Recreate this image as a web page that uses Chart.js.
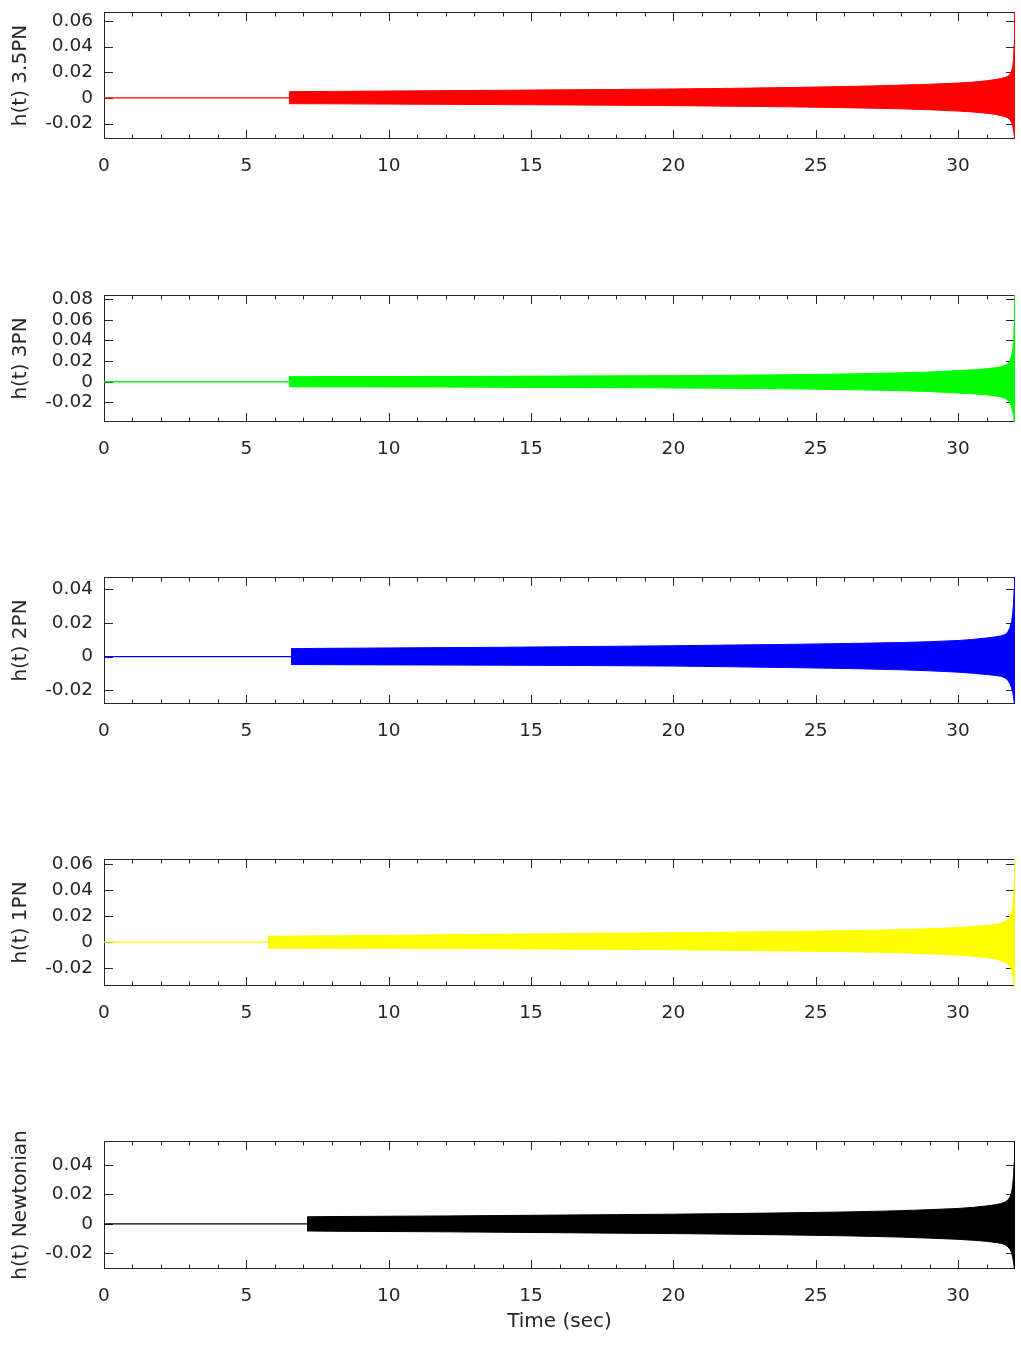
<!DOCTYPE html>
<html><head><meta charset="utf-8">
<script src="https://cdn.jsdelivr.net/npm/chart.js@4.4.0/dist/chart.umd.min.js"></script>
<style>
html,body{margin:0;padding:0;background:#fff;}
#wrap{position:relative;width:1021px;height:1347px;overflow:hidden;}
canvas{position:absolute;left:0;}
</style></head><body><div id="wrap"></div>
<script>
// ---------- data ----------
const xTickValues = [0, 5, 10, 15, 20, 25, 30];
const xMinorTickValues = [1, 2, 3, 4, 6, 7, 8, 9, 11, 12, 13, 14, 16, 17, 18, 19, 21, 22, 23, 24, 26, 27, 28, 29, 31];
const xRange = [0, 32];
const xTitle = 'Time (sec)';

const seriesLabels = ['h(t) 3.5PN', 'h(t) 3PN', 'h(t) 2PN', 'h(t) 1PN', 'h(t) Newtonian'];
const seriesColors = ['#ff0000', '#00ff00', '#0000ff', '#ffff00', '#000000'];
const signalStart = [6.5, 6.5, 6.57, 5.76, 7.13];

// envelope sample times after the signal start
const envTime = [8, 10, 12, 14, 16, 18, 20, 22, 24, 26, 27, 28, 29, 30, 30.5, 31, 31.3, 31.5, 31.65, 31.75, 31.82, 31.88, 31.92, 31.95, 31.97, 31.985, 32];

// 3.5PN
const up35 = [0.0049, 0.0051, 0.0054, 0.0057, 0.0060, 0.0063, 0.0066, 0.0070, 0.0075, 0.0081, 0.0089, 0.0094, 0.0100, 0.0107, 0.0116, 0.0123, 0.0134, 0.0143, 0.0151, 0.0160, 0.0170, 0.0185, 0.0210, 0.0245, 0.0310, 0.0420, 0.0670, 0.0670];
const lo35 = [-0.0045, -0.0046, -0.0048, -0.0050, -0.0052, -0.0054, -0.0057, -0.0060, -0.0064, -0.0069, -0.0076, -0.0080, -0.0085, -0.0092, -0.0102, -0.0109, -0.0119, -0.0128, -0.0137, -0.0146, -0.0156, -0.0170, -0.0190, -0.0220, -0.0255, -0.0290, -0.0320, -0.0320];
const yTicks35 = [-0.02, 0, 0.02, 0.04, 0.06];
const yRange35 = [-0.032, 0.067];

// 3PN
const up3 = [0.0049, 0.0050, 0.0051, 0.0052, 0.0053, 0.0055, 0.0057, 0.0059, 0.0063, 0.0068, 0.0075, 0.0080, 0.0086, 0.0094, 0.0108, 0.0115, 0.0125, 0.0135, 0.0145, 0.0155, 0.0175, 0.0205, 0.0250, 0.0310, 0.0400, 0.0550, 0.0840, 0.0840];
const lo3 = [-0.0049, -0.0050, -0.0051, -0.0052, -0.0054, -0.0056, -0.0058, -0.0060, -0.0064, -0.0069, -0.0076, -0.0081, -0.0087, -0.0095, -0.0110, -0.0117, -0.0127, -0.0137, -0.0148, -0.0160, -0.0180, -0.0205, -0.0245, -0.0290, -0.0330, -0.0370, -0.0390, -0.0390];
const yTicks3 = [-0.02, 0, 0.02, 0.04, 0.06, 0.08];
const yRange3 = [-0.039, 0.084];

// 2PN
const up2 = [0.0047, 0.0049, 0.0051, 0.0053, 0.0055, 0.0058, 0.0061, 0.0064, 0.0068, 0.0072, 0.0077, 0.0080, 0.0083, 0.0088, 0.0095, 0.0101, 0.0110, 0.0116, 0.0122, 0.0130, 0.0145, 0.0170, 0.0205, 0.0255, 0.0320, 0.0400, 0.0470, 0.0470];
const lo2 = [-0.0047, -0.0048, -0.0049, -0.0050, -0.0051, -0.0052, -0.0054, -0.0056, -0.0060, -0.0065, -0.0070, -0.0074, -0.0078, -0.0084, -0.0092, -0.0098, -0.0106, -0.0111, -0.0116, -0.0125, -0.0140, -0.0160, -0.0185, -0.0212, -0.0242, -0.0268, -0.0280, -0.0280];
const yTicks2 = [-0.02, 0, 0.02, 0.04];
const yRange2 = [-0.028, 0.047];

// 1PN
const up1 = [0.0046, 0.0049, 0.0053, 0.0057, 0.0061, 0.0065, 0.0069, 0.0073, 0.0077, 0.0082, 0.0088, 0.0092, 0.0097, 0.0103, 0.0112, 0.0119, 0.0128, 0.0136, 0.0145, 0.0157, 0.0175, 0.0200, 0.0235, 0.0285, 0.0360, 0.0460, 0.0638, 0.0638];
const lo1 = [-0.0046, -0.0047, -0.0048, -0.0049, -0.0051, -0.0053, -0.0055, -0.0058, -0.0062, -0.0067, -0.0073, -0.0077, -0.0082, -0.0089, -0.0099, -0.0107, -0.0118, -0.0128, -0.0140, -0.0153, -0.0168, -0.0185, -0.0210, -0.0245, -0.0285, -0.0320, -0.0336, -0.0336];
const yTicks1 = [-0.02, 0, 0.02, 0.04, 0.06];
const yRange1 = [-0.0336, 0.0638];

// Newtonian
const up0 = [0.0048, 0.0050, 0.0052, 0.0054, 0.0057, 0.0060, 0.0063, 0.0066, 0.0070, 0.0075, 0.0081, 0.0085, 0.0090, 0.0097, 0.0105, 0.0112, 0.0122, 0.0130, 0.0138, 0.0148, 0.0162, 0.0182, 0.0215, 0.0265, 0.0330, 0.0420, 0.0564, 0.0564];
const lo0 = [-0.0048, -0.0050, -0.0052, -0.0054, -0.0057, -0.0060, -0.0063, -0.0066, -0.0070, -0.0075, -0.0081, -0.0085, -0.0090, -0.0097, -0.0105, -0.0111, -0.0119, -0.0126, -0.0132, -0.0142, -0.0156, -0.0172, -0.0195, -0.0228, -0.0265, -0.0295, -0.0307, -0.0307];
const yTicks0 = [-0.02, 0, 0.02, 0.04];
const yRange0 = [-0.0307, 0.0564];

const uppers = [up35, up3, up2, up1, up0];
const lowers = [lo35, lo3, lo2, lo1, lo0];
const yTickSets = [yTicks35, yTicks3, yTicks2, yTicks1, yTicks0];
const yRanges = [yRange35, yRange3, yRange2, yRange1, yRange0];

// ---------- layout ----------
const W = 1021;
const panelTops = [12, 295, 577, 859, 1141];
const panelH = [127, 127, 127, 127, 128];
const AX = '#262626';
const FONT = 'DejaVu Sans';

const framePlugin = {
  id: 'frame',
  beforeDatasetsDraw(chart) {
    const { ctx, chartArea: a, scales: { x, y } } = chart;
    ctx.save();
    ctx.strokeStyle = AX;
    ctx.lineWidth = 1;
    ctx.beginPath();
    ctx.rect(a.left + 0.5, a.top + 0.5, a.right - a.left - 1, a.bottom - a.top - 1);
    const major = 9, minor = 4.5;
    for (const v of xTickValues) {
      const px = Math.round(x.getPixelForValue(v)) + 0.5;
      ctx.moveTo(px, a.bottom); ctx.lineTo(px, a.bottom - major);
      ctx.moveTo(px, a.top); ctx.lineTo(px, a.top + major);
    }
    for (const v of xMinorTickValues) {
      const px = Math.round(x.getPixelForValue(v)) + 0.5;
      ctx.moveTo(px, a.bottom); ctx.lineTo(px, a.bottom - minor);
      ctx.moveTo(px, a.top); ctx.lineTo(px, a.top + minor);
    }
    for (const t of y.ticks) {
      const py = Math.round(y.getPixelForValue(t.value)) + 0.5;
      ctx.moveTo(a.left, py); ctx.lineTo(a.left + major, py);
      ctx.moveTo(a.right, py); ctx.lineTo(a.right - major, py);
    }
    ctx.stroke();
    ctx.restore();
  }
};

const wrap = document.getElementById('wrap');
seriesLabels.forEach((label, i) => {
  const last = i === seriesLabels.length - 1;
  const padTop = 12;
  const xAxisH = last ? (1347 - (panelTops[i] + panelH[i])) : 50;
  const ch = padTop + panelH[i] + xAxisH;
  const cv = document.createElement('canvas');
  cv.width = W; cv.height = ch;
  cv.style.width = W + 'px'; cv.style.height = ch + 'px';
  cv.style.top = (panelTops[i] - padTop) + 'px';
  wrap.appendChild(cv);

  const col = seriesColors[i];
  const times = [signalStart[i], ...envTime];
  const upPts = times.map((t, k) => ({ x: t, y: uppers[i][k] }));
  const loPts = times.map((t, k) => ({ x: t, y: lowers[i][k] }));
  const zeroPts = [{ x: xRange[0], y: 0 }, { x: signalStart[i], y: 0 }];
  const yt = yTickSets[i];

  new Chart(cv, {
    type: 'line',
    data: {
      datasets: [
        { data: zeroPts, borderColor: col, borderWidth: 1.3, pointRadius: 0, fill: false },
        { data: upPts, borderColor: col, backgroundColor: col, borderWidth: 1, pointRadius: 0, fill: '+1', tension: 0 },
        { data: loPts, borderColor: col, borderWidth: 1, pointRadius: 0, fill: false, tension: 0 }
      ]
    },
    options: {
      responsive: false, animation: false, devicePixelRatio: 1,
      layout: { padding: { top: padTop, right: W - 1015, left: 0, bottom: 0 } },
      plugins: { legend: { display: false }, tooltip: { enabled: false } },
      scales: {
        x: {
          type: 'linear', min: xRange[0], max: xRange[1],
          grid: { display: false, drawTicks: false }, border: { display: false },
          afterBuildTicks: s => { s.ticks = xTickValues.map(v => ({ value: v })); },
          afterFit: s => { s.height = xAxisH; s.paddingLeft = 0; s.paddingRight = 0; },
          ticks: { color: AX, font: { family: FONT, size: 18.5 }, padding: 16, maxRotation: 0, autoSkip: false },
          title: { display: last, text: xTitle, color: AX, font: { family: FONT, size: 20 }, padding: { top: 0, bottom: 13 } }
        },
        y: {
          type: 'linear', min: yRanges[i][0], max: yRanges[i][1],
          grid: { display: false, drawTicks: false }, border: { display: false },
          afterBuildTicks: s => { s.ticks = yt.map(v => ({ value: v })); },
          afterFit: s => { s.width = 104; s.paddingTop = 0; s.paddingBottom = 0; },
          ticks: { color: AX, font: { family: FONT, size: 18.5 }, padding: 11, autoSkip: false,
                   callback: v => (v === 0 ? '0' : v.toFixed(2)) },
          title: { display: true, text: label, color: AX, font: { family: FONT, size: 20 }, padding: { top: 9, bottom: 0 } }
        }
      }
    },
    plugins: [framePlugin]
  });
});
</script>
</body></html>
